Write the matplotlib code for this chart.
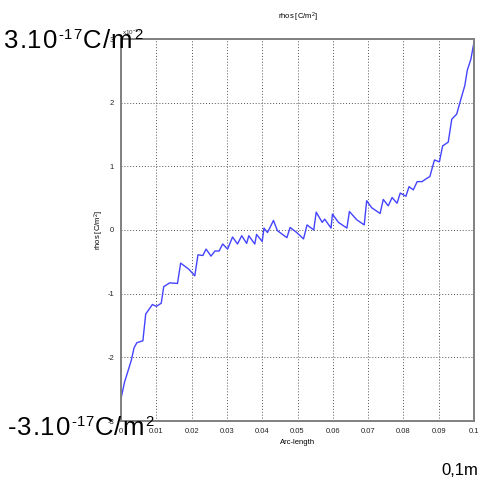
import matplotlib
matplotlib.use("Agg")
import matplotlib.pyplot as plt
from matplotlib import font_manager
from matplotlib.font_manager import FontProperties, findfont, get_font

# Surface charge density along the boundary (units of 1e-17 C/m^2)
arc_length = [
    0.0000, 0.0010, 0.0029, 0.0037, 0.0045, 0.0062, 0.0070, 0.0089, 0.0100,
    0.0114, 0.0121, 0.0138, 0.0160, 0.0169, 0.0193, 0.0209, 0.0218, 0.0232,
    0.0241, 0.0255, 0.0266, 0.0278, 0.0288, 0.0302, 0.0316, 0.0330, 0.0342,
    0.0356, 0.0362, 0.0379, 0.0384, 0.0400, 0.0405, 0.0415, 0.0432, 0.0443,
    0.0470, 0.0479, 0.0498, 0.0517, 0.0527, 0.0546, 0.0553, 0.0570, 0.0577,
    0.0595, 0.0599, 0.0616, 0.0640, 0.0647, 0.0668, 0.0689, 0.0696, 0.0710,
    0.0734, 0.0743, 0.0757, 0.0768, 0.0782, 0.0791, 0.0807, 0.0816, 0.0828,
    0.0839, 0.0853, 0.0863, 0.0875, 0.0888, 0.0902, 0.0911, 0.0927, 0.0937,
    0.0951, 0.0960, 0.0974, 0.0981, 0.0991, 0.1000,
]
rhos = [
    -2.65, -2.39, -2.05, -1.85, -1.77, -1.74, -1.32, -1.17, -1.20,
    -1.15, -0.89, -0.83, -0.84, -0.52, -0.62, -0.72, -0.39, -0.40,
    -0.30, -0.41, -0.33, -0.33, -0.22, -0.30, -0.11, -0.22, -0.09,
    -0.21, -0.09, -0.22, -0.07, -0.18, 0.03, -0.04, 0.15, -0.01,
    -0.12, 0.04, -0.04, -0.14, 0.08, 0.00, 0.28, 0.12, 0.17,
    0.03, 0.25, 0.12, 0.03, 0.29, 0.16, 0.08, 0.46, 0.35,
    0.26, 0.48, 0.38, 0.51, 0.42, 0.58, 0.53, 0.68, 0.63,
    0.76, 0.76, 0.80, 0.84, 1.10, 1.07, 1.32, 1.38, 1.74,
    1.82, 2.00, 2.27, 2.51, 2.68, 2.95,
]

x_ticks = [0, 0.01, 0.02, 0.03, 0.04, 0.05, 0.06, 0.07, 0.08, 0.09, 0.1]
x_tick_labels = ["0", "0.01", "0.02", "0.03", "0.04", "0.05", "0.06",
                 "0.07", "0.08", "0.09", "0.1"]
y_ticks = [-3, -2, -1, 0, 1, 2, 3]
y_tick_labels = ["-3", "-2", "-1", "0", "1", "2", "3"]

installed = {f.name for f in font_manager.fontManager.ttflist}
small_font = "Liberation Sans Narrow" if "Liberation Sans Narrow" in installed else "Liberation Sans"

plt.rcParams["font.family"] = ["Liberation Sans", "DejaVu Sans"]
plt.rcParams["mathtext.default"] = "regular"

W = H = 479
DPI = 100
fig = plt.figure(figsize=(W / DPI, H / DPI), dpi=DPI)
ax = fig.add_axes([121 / W, 1 - 421 / H, 353 / W, 382 / H])

ax.plot(arc_length, rhos, color="#4444ff", lw=1.0)

ax.set_xlim(0, 0.1)
ax.set_ylim(-3, 3)
ax.set_xticks(x_ticks)
ax.set_xticklabels(x_tick_labels)
ax.set_yticks(y_ticks)
ax.set_yticklabels(y_tick_labels)
ax.tick_params(length=0, pad=5, labelsize=5.5)
for lab in ax.get_xticklabels() + ax.get_yticklabels():
    lab.set_family(small_font)
    lab.set_color("#222222")

ax.grid(True, ls=(0, (1, 2)), color="#555555", lw=0.7)
for sp in ax.spines.values():
    sp.set_color("#808080")
    sp.set_linewidth(1.4)

ax.set_title("rhos [C/m$^2$]", fontsize=5.5, family=small_font, pad=14)
ax.set_xlabel("Arc-length", fontsize=5.5, family=small_font, labelpad=3)
ax.set_ylabel("rhos [C/m$^2$]", fontsize=5.5, family=small_font, labelpad=1)

# exponent marker of the y axis
fig.text(122 / W, 1 - 35 / H, r"x10$^{-17}$", fontsize=4.5, family=small_font,
         color="#333333", va="baseline")

# glyph advances for spacing out the large labels
ft = get_font(findfont(FontProperties(family="Liberation Sans")))


def advance(ch, size_pt):
    ft.set_size(size_pt, DPI)
    return ft.load_char(ord(ch)).linearHoriAdvance / 65536


def spread_text(x0, x1, base, parts, size, sup_scale=0.58, sup_raise=0.36):
    """Draw text pieces (text, raised) spread evenly between x0 and x1 px."""
    px_per_pt = DPI / 72
    glyphs = []
    pos = 0.0
    for txt, raised in parts:
        fs = size * sup_scale if raised else size
        dy = size * px_per_pt * sup_raise if raised else 0.0
        for ch in txt:
            glyphs.append((ch, pos, fs, dy))
            pos += advance(ch, fs)
    k = (x1 - x0) / pos
    for ch, p, fs, dy in glyphs:
        fig.text((x0 + k * p) / W, 1 - (base - dy) / H, ch, fontsize=fs,
                 va="baseline", ha="left", zorder=10)


big = 18.5
spread_text(4, 143, 48, [("3.10", False), ("-17", True), ("C/m", False), ("2", True)], big)
spread_text(8, 154, 435, [("-3.10", False), ("-17", True), ("C/m", False), ("2", True)], big)
fig.text(441 / W, 1 - 475 / H, "0,1m", fontsize=12, va="baseline", ha="left")

fig.savefig("out.png", dpi=DPI)
